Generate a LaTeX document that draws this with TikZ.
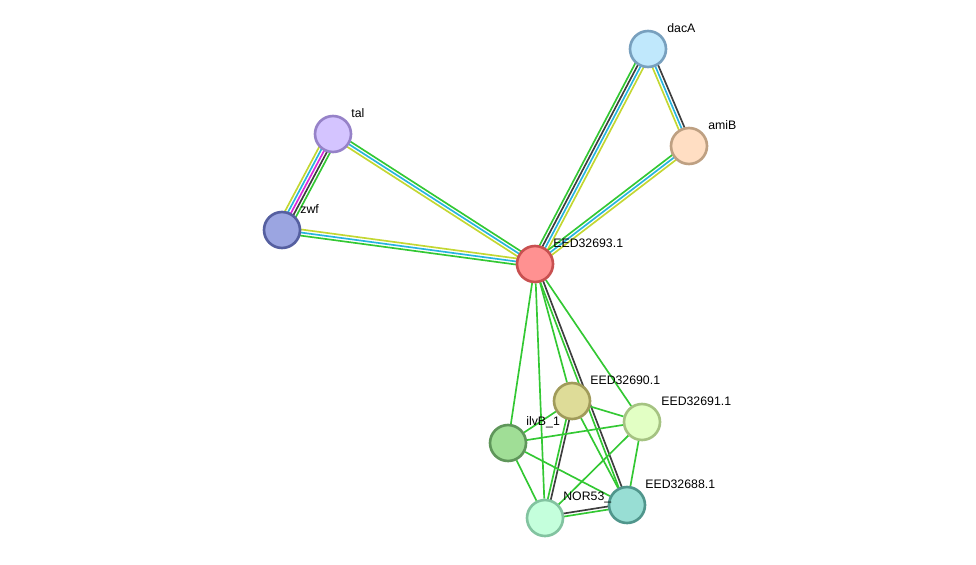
\documentclass[tikz,border=0pt]{standalone}
\usepackage{fontspec}
\setmainfont{Liberation Sans}
\usepackage{xcolor}
\usetikzlibrary{calc,backgrounds}
\definecolor{LnGreen}{RGB}{51,200,51}
\definecolor{LnCyan}{RGB}{40,180,222}
\definecolor{LnYel}{RGB}{195,215,50}
\definecolor{LnDark}{RGB}{62,62,62}
\definecolor{LnMag}{RGB}{218,40,218}
\tikzstyle{Prot}=[circle,line width=1.5pt,minimum size=0.72cm,inner sep=0pt]
\tikzstyle{Edge}=[line width=0.95pt]
\tikzstyle{Lbl}=[anchor=west,inner sep=0pt,font=\fontsize{7}{8}\selectfont]
% bundle of parallel coloured lines between two nodes
\newcommand{\Bundle}[3]{\foreach \c/\o in {#3}{%
    \draw[Edge,draw=\c]($(#1)!{\o*1.75pt}!90:(#2)$)--($(#2)!{\o*1.75pt}!-90:(#1)$);}}

\begin{document}
\begin{tikzpicture}[x=0.02cm,y=-0.02cm]
        \useasboundingbox(0,0)rectangle(976,564);
        \node[Prot,draw={rgb,255:red,200;green,80;blue,80},fill={rgb,255:red,255;green,145;blue,145}](main)at(535,264){};
        \node[Prot,draw={rgb,255:red,120;green,160;blue,190},fill={rgb,255:red,192;green,232;blue,252}](dacA)at(648,49){};
        \node[Prot,draw={rgb,255:red,190;green,160;blue,130},fill={rgb,255:red,255;green,222;blue,195}](amiB)at(689,146){};
        \node[Prot,draw={rgb,255:red,150;green,130;blue,200},fill={rgb,255:red,212;green,196;blue,255}](tal)at(333,134){};
        \node[Prot,draw={rgb,255:red,85;green,95;blue,160},fill={rgb,255:red,155;green,165;blue,225}](zwf)at(282,230){};
        \node[Prot,draw={rgb,255:red,160;green,155;blue,90},fill={rgb,255:red,222;green,220;blue,152}](e690)at(572,401){};
        \node[Prot,draw={rgb,255:red,165;green,195;blue,130},fill={rgb,255:red,226;green,255;blue,196}](e691)at(642,422){};
        \node[Prot,draw={rgb,255:red,95;green,150;blue,90},fill={rgb,255:red,160;green,222;blue,150}](ilvB)at(508,443){};
        \node[Prot,draw={rgb,255:red,80;green,150;blue,140},fill={rgb,255:red,152;green,222;blue,212}](e688)at(627,505){};
        \node[Prot,draw={rgb,255:red,130;green,195;blue,160},fill={rgb,255:red,196;green,255;blue,220}](nor53)at(545,518){};
        \node[Lbl](mainL)at(553,243){EED32693.1};
        \node[Lbl](dacAL)at(667,28){dacA};
        \node[Lbl](amiBL)at(708,125){amiB};
        \node[Lbl](talL)at(351,113){tal};
        \node[Lbl](zwfL)at(300,209){zwf};
        \node[Lbl](e690L)at(590,380){EED32690.1};
        \node[Lbl](e691L)at(661,401){EED32691.1};
        \node[Lbl](ilvBL)at(526,422){ilvB\_1};
        \node[Lbl](e688L)at(645,484){EED32688.1};
        \node[Lbl](nor53L)at(563,497){NOR53\_};
        \begin{scope}[on background layer]
        \Bundle{tal}{zwf}{LnYel/-2,LnCyan/-1,LnMag/0,LnDark/1,LnGreen/2}
        \Bundle{tal}{main}{LnGreen/1,LnCyan/0,LnYel/-1}
        \Bundle{zwf}{main}{LnYel/1,LnCyan/0,LnGreen/-1}
        \Bundle{dacA}{main}{LnYel/1.5,LnCyan/0.5,LnDark/-0.5,LnGreen/-1.5}
        \Bundle{dacA}{amiB}{LnDark/1,LnCyan/0,LnYel/-1}
        \Bundle{amiB}{main}{LnYel/1,LnCyan/0,LnGreen/-1}
        \Bundle{main}{e688}{LnGreen/-0.5,LnDark/0.5}
        \Bundle{e690}{nor53}{LnGreen/-0.5,LnDark/0.5}
        \Bundle{nor53}{e688}{LnGreen/-0.5,LnDark/0.5}
        \draw[Edge,LnGreen](main)--(ilvB);
        \draw[Edge,LnGreen](main)--(nor53);
        \draw[Edge,LnGreen](main)--(e690);
        \draw[Edge,LnGreen](main)--(e691);
        \draw[Edge,LnGreen](e690)--(e688);
        \draw[Edge,LnGreen](e690)--(e691);
        \draw[Edge,LnGreen](e690)--(ilvB);
        \draw[Edge,LnGreen](ilvB)--(e691);
        \draw[Edge,LnGreen](ilvB)--(nor53);
        \draw[Edge,LnGreen](ilvB)--(e688);
        \draw[Edge,LnGreen](e691)--(nor53);
        \draw[Edge,LnGreen](e691)--(e688);
        \end{scope}
    \end{tikzpicture}
\end{document}
